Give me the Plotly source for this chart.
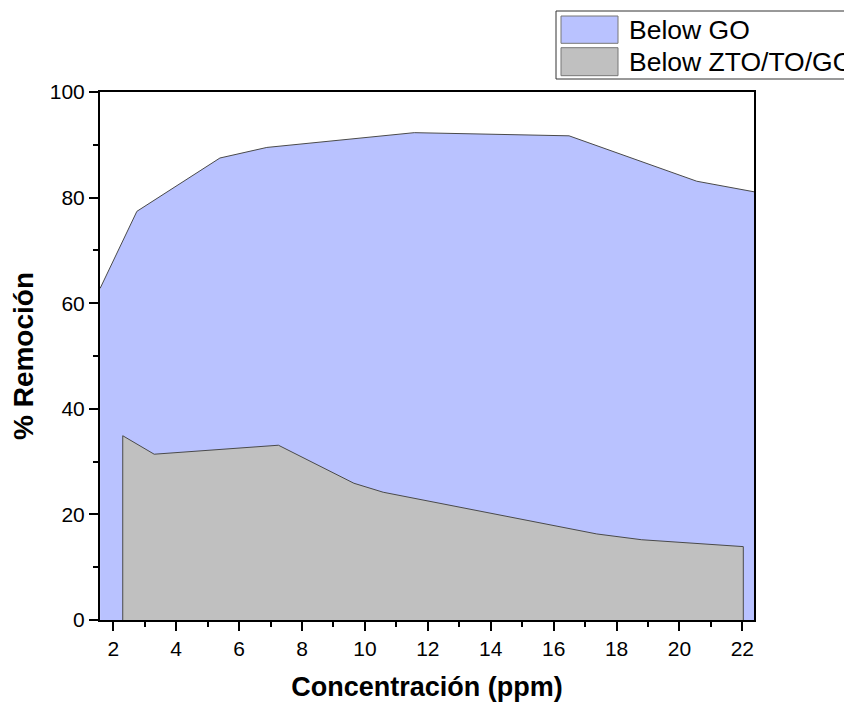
import plotly.graph_objects as go

# Removal percentage vs. concentration for the two materials
go_conc = [1.58, 2.75, 5.39, 6.88, 11.57, 16.49, 20.55, 22.37]
go_removal = [62.8, 77.4, 87.5, 89.5, 92.3, 91.7, 83.1, 81.1]

zto_conc = [2.30, 2.30, 3.30, 7.25, 9.65, 10.58, 17.37, 18.80, 22.03, 22.03]
zto_removal = [0.0, 34.9, 31.4, 33.1, 25.9, 24.2, 16.3, 15.2, 13.9, 0.0]

series_names = ["Below GO", "Below ZTO/TO/GO"]
fill_colors = ["#B9C2FF", "#C0C0C0"]
edge_color = "#4a4a4a"

x_ticks = [2, 4, 6, 8, 10, 12, 14, 16, 18, 20, 22]
y_ticks = [0, 20, 40, 60, 80, 100]

FONT = "Arial, Liberation Sans, sans-serif"

fig = go.Figure()
fig.add_trace(go.Scatter(
    x=go_conc, y=go_removal, mode="lines", fill="tozeroy",
    fillcolor=fill_colors[0], line=dict(color=edge_color, width=1),
    name=series_names[0], showlegend=False,
))
fig.add_trace(go.Scatter(
    x=zto_conc, y=zto_removal, mode="lines", fill="tozeroy",
    fillcolor=fill_colors[1], line=dict(color=edge_color, width=1),
    name=series_names[1], showlegend=False,
))

W, H = 844, 703
L, R, T, B = 100, 90, 92, 83
pw, ph = W - L - R, H - T - B


def px2paper(px, py):
    return (px - L) / pw, (H - B - py) / ph


# Legend box drawn in paper coordinates
x0, y0 = px2paper(556, 79)
x1, y1 = px2paper(900, 11)
fig.add_shape(type="rect", xref="paper", yref="paper", x0=x0, y0=y0, x1=x1, y1=y1,
              line=dict(color="#333333", width=1), fillcolor="white", layer="above")
swatches = [(16, 43.3), (47.7, 75.7)]
for (top, bot), name, col in zip(swatches, series_names, fill_colors):
    sx0, sy0 = px2paper(561, bot)
    sx1, sy1 = px2paper(618, top)
    fig.add_shape(type="rect", xref="paper", yref="paper", x0=sx0, y0=sy0, x1=sx1, y1=sy1,
                  line=dict(color="#777777", width=1), fillcolor=col, layer="above")
    tx, ty = px2paper(627, (top + bot) / 2 + 0.5)
    fig.add_annotation(xref="paper", yref="paper", x=tx, y=ty, text=name,
                       showarrow=False, xanchor="left", yanchor="middle",
                       font=dict(family=FONT, size=26.5, color="black"))

axis_common = dict(
    showgrid=False, zeroline=False, showline=True, linecolor="black", linewidth=2,
    mirror=True, ticks="outside", ticklen=9, tickwidth=1.5, tickcolor="black",
    tickfont=dict(family=FONT, size=21, color="black"), automargin=False,
)

fig.update_layout(
    width=W, height=H,
    margin=dict(l=L, r=R, t=T, b=B),
    paper_bgcolor="white", plot_bgcolor="white",
    xaxis=dict(
        range=[1.577, 22.37], tickvals=x_ticks,
        minor=dict(ticks="outside", ticklen=5, tickwidth=1.5, tickcolor="black", dtick=1, tick0=1),
        title=dict(text="<b>Concentración (ppm)</b>", font=dict(family=FONT, size=27, color="black"), standoff=18),
        **axis_common,
    ),
    yaxis=dict(
        range=[0, 100], tickvals=y_ticks,
        minor=dict(ticks="outside", ticklen=5, tickwidth=1.5, tickcolor="black", dtick=10, tick0=0),
        title=dict(text="<b>% Remoción</b>", font=dict(family=FONT, size=28, color="black"), standoff=8),
        **axis_common,
    ),
    showlegend=False,
)

fig.write_html("out.html")
